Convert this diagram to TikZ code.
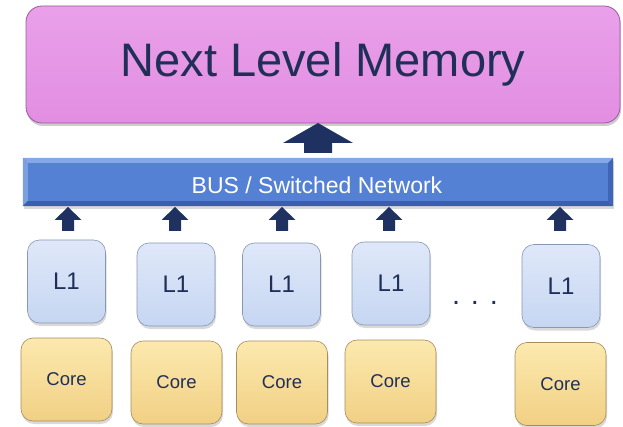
\documentclass[tikz,border=0pt]{standalone}
\usepackage{fontspec}
\setmainfont{Liberation Sans}
\usetikzlibrary{shadows,calc}
\definecolor{navy}{HTML}{1F2F58}
\definecolor{arrowc}{HTML}{1E3161}
\definecolor{memfill}{HTML}{E28EE2}
\definecolor{memtop}{HTML}{E9A0E9}
\definecolor{memdraw}{HTML}{9A5A9A}
\definecolor{busfill}{HTML}{5581D4}
\definecolor{buslight}{HTML}{86A7E6}
\definecolor{busdark}{HTML}{3A5FAE}
\definecolor{lonetop}{HTML}{DFE8F9}
\definecolor{lonebot}{HTML}{C6D6F2}
\definecolor{lonedraw}{HTML}{8797B4}
\definecolor{coretop}{HTML}{FCE9AE}
\definecolor{corebot}{HTML}{F1D084}
\definecolor{coredraw}{HTML}{A68D5C}
\newcommand\blkarrow[6]{% x, ytip, ybottom, headwidth, shaftwidth, headbase y
  \fill[arrowc] (#1,#2) -- ({#1+#4/2},#6) -- ({#1+#5/2},#6) -- ({#1+#5/2},#3)
     -- ({#1-#5/2},#3) -- ({#1-#5/2},#6) -- ({#1-#4/2},#6) -- cycle;}
\tikzset{
  memstyle/.style={rounded corners=16pt, minimum width=594pt, minimum height=117pt,
    top color=memtop, bottom color=memfill, draw=memdraw, line width=0.8pt,
    drop shadow={shadow xshift=1pt, shadow yshift=-3pt, opacity=0.4},
    text=navy, font=\fontsize{47}{50}\selectfont, inner sep=0pt},
  busstyle/.style={minimum width=590pt, minimum height=48pt, fill=busfill,
    drop shadow={shadow xshift=1pt, shadow yshift=-3pt, opacity=0.3}, inner sep=0pt},
  lonestyle/.style={rounded corners=12pt, minimum width=78pt, minimum height=83pt,
    top color=lonetop, bottom color=lonebot, draw=lonedraw, line width=0.6pt,
    drop shadow={shadow xshift=1pt, shadow yshift=-3pt, opacity=0.3},
    text=navy, font=\fontsize{24}{27}\selectfont, inner sep=0pt},
  corestyle/.style={rounded corners=12pt, minimum width=91pt, minimum height=83pt,
    top color=coretop, bottom color=corebot, draw=coredraw, line width=0.6pt,
    drop shadow={shadow xshift=1pt, shadow yshift=-3pt, opacity=0.3},
    text=navy, font=\fontsize{18.5}{22}\selectfont, inner sep=0pt},
}
\begin{document}
\begin{tikzpicture}[x=1pt,y=-1pt]
\useasboundingbox (0,0) rectangle (623,427);
% memory
\node[memstyle] (mem) at (323,64.5) {Next Level Memory};
% bus
\node[busstyle] (bus) at (318,182) {};
\fill[buslight] (bus.north west) -- (bus.north east) -- ($(bus.north east)+(-5,5)$) -- ($(bus.north west)+(5,5)$) -- cycle;
\fill[buslight!80!busfill] (bus.north west) -- ($(bus.north west)+(5,5)$) -- ($(bus.south west)+(5,-5)$) -- (bus.south west) -- cycle;
\fill[busdark] (bus.south west) -- (bus.south east) -- ($(bus.south east)+(-5,-5)$) -- ($(bus.south west)+(5,-5)$) -- cycle;
\fill[busdark!80!busfill] (bus.north east) -- ($(bus.north east)+(-5,5)$) -- ($(bus.south east)+(-5,-5)$) -- (bus.south east) -- cycle;
\node[text=white, font=\fontsize{23}{26}\selectfont] (bustext) at (317,185) {BUS / Switched Network};
% L1 caches
\node[lonestyle] (l1a) at (66.5,281.5) {L1};
\node[lonestyle] (l1b) at (176,284.5) {L1};
\node[lonestyle] (l1c) at (281.5,284.5) {L1};
\node[lonestyle] (l1d) at (391,283.5) {L1};
\node[lonestyle] (l1e) at (561,286) {L1};
% cores
\node[corestyle] (ca) at (66.5,379.5) {Core};
\node[corestyle] (cb) at (176.5,382.5) {Core};
\node[corestyle] (cc) at (282,382.5) {Core};
\node[corestyle] (cd) at (390.5,381.5) {Core};
\node[corestyle] (ce) at (560.5,384) {Core};
% dots
\node[text=navy, font=\fontsize{29}{30}\selectfont, inner sep=0pt] (dots) at (475,303) {. . .};
% arrows
\blkarrow{318}{123}{153}{70}{28}{143}
\blkarrow{68}{207}{231}{27}{12}{220}
\blkarrow{175}{207}{231}{27}{12}{220}
\blkarrow{282}{207}{231}{27}{12}{220}
\blkarrow{389}{207}{231}{27}{12}{220}
\blkarrow{560}{207}{231}{27}{12}{220}
\end{tikzpicture}
\end{document}
